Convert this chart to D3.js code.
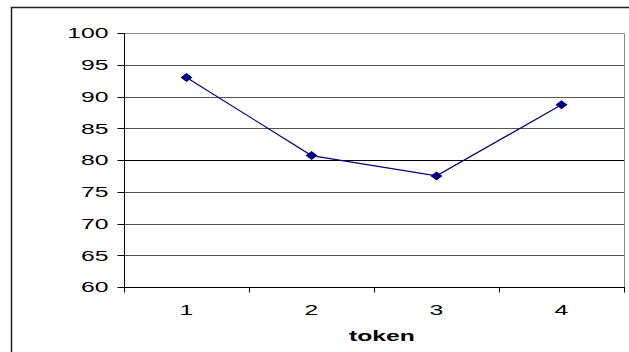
<!DOCTYPE html>
<html>
<head>
<meta charset="utf-8">
<script src="https://cdn.jsdelivr.net/npm/d3@7"></script>
<style>
  html, body { margin: 0; padding: 0; background: #fff; }
  svg { display: block; }
  text { font-family: "Liberation Sans", Arial, sans-serif; fill: #000; }
</style>
</head>
<body>
<svg id="chart" width="629" height="352"></svg>
<script>
// ---- data ----
const categories = ["1", "2", "3", "4"];
const values = [93.0, 80.7, 77.5, 88.7];
const yTicks = [60, 65, 70, 75, 80, 85, 90, 95, 100];
const xTitle = "token";

// ---- layout ----
const W = 629, H = 352;
const plot = { left: 124, top: 33, right: 624, bottom: 287 };
const stretch = 1.65;

const svg = d3.select("#chart");

// outer chart border (extends past the canvas on right/bottom)
svg.append("rect")
  .attr("x", 11.5).attr("y", 7.5)
  .attr("width", 640).attr("height", 380)
  .attr("fill", "none").attr("stroke", "#222").attr("stroke-width", 1.5);

const x = d3.scaleBand().domain(categories).range([plot.left, plot.right]).padding(0);
const y = d3.scaleLinear().domain([60, 100]).range([plot.bottom, plot.top]);

// gridlines
svg.append("g").selectAll("line")
  .data(yTicks.filter(d => d > 60 && d < 100))
  .join("line")
  .attr("x1", plot.left).attr("x2", plot.right)
  .attr("y1", d => Math.round(y(d)) + 0.5).attr("y2", d => Math.round(y(d)) + 0.5)
  .attr("stroke", d => d === 80 ? "#000" : "#555").attr("stroke-width", 1);

// plot area border (top and right in gray)
svg.append("path")
  .attr("d", `M${plot.left},${plot.top + 0.5}H${plot.right + 0.5}V${plot.bottom}`)
  .attr("fill", "none").attr("stroke", "#888").attr("stroke-width", 1);

// y axis
const yAxis = svg.append("g").attr("transform", `translate(${plot.left + 0.5},0)`);
yAxis.append("line").attr("y1", plot.top).attr("y2", plot.bottom + 4).attr("stroke", "#000");
yAxis.selectAll("line.tick").data(yTicks).join("line").attr("class", "tick")
  .attr("x1", -7).attr("x2", 0)
  .attr("y1", d => Math.round(y(d)) + 0.5).attr("y2", d => Math.round(y(d)) + 0.5)
  .attr("stroke", "#000");
yAxis.selectAll("text").data(yTicks).join("text")
  .attr("transform", d => `translate(-16,${y(d)}) scale(${stretch},1)`)
  .attr("text-anchor", "end").attr("dy", "0.36em")
  .style("font-size", "15px")
  .text(d => d);

// x axis
const xAxis = svg.append("g").attr("transform", `translate(0,${plot.bottom + 0.5})`);
xAxis.append("line").attr("x1", plot.left).attr("x2", plot.right + 1).attr("stroke", "#000");
const bounds = categories.map(c => x(c)).concat([x(categories[categories.length - 1]) + x.bandwidth()]);
xAxis.selectAll("line.tick").data(bounds).join("line").attr("class", "tick")
  .attr("x1", d => Math.round(d) + 0.5).attr("x2", d => Math.round(d) + 0.5)
  .attr("y1", 0).attr("y2", 5).attr("stroke", "#000");
xAxis.selectAll("text").data(categories).join("text")
  .attr("transform", d => `translate(${x(d) + x.bandwidth() / 2},27) scale(${stretch},1)`)
  .attr("text-anchor", "middle")
  .style("font-size", "15px")
  .text(d => d);

// x title
svg.append("text")
  .attr("transform", `translate(${(plot.left + plot.right) / 2 + 8},341) scale(${stretch},1)`)
  .attr("text-anchor", "middle")
  .style("font-size", "15px").style("font-weight", "bold")
  .text(xTitle);

// line
const pts = categories.map((c, i) => [x(c) + x.bandwidth() / 2, y(values[i])]);
svg.append("path")
  .attr("d", d3.line()(pts))
  .attr("fill", "none").attr("stroke", "#000080").attr("stroke-width", 1.2);

// diamond markers
svg.append("g").selectAll("path")
  .data(pts)
  .join("path")
  .attr("d", d => `M${d[0] - 6},${d[1]}L${d[0]},${d[1] - 4.5}L${d[0] + 6},${d[1]}L${d[0]},${d[1] + 4.5}Z`)
  .attr("fill", "#000080");
</script>
</body>
</html>
